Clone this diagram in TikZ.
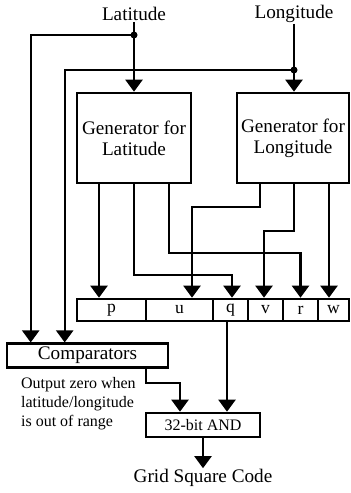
\documentclass[tikz,border=0pt]{standalone}
\usepackage{fontspec}
\setmainfont{Liberation Serif}
\usetikzlibrary{arrows.meta}

\begin{document}
\begin{tikzpicture}[
      x=0.5pt, y={(0pt,-0.5pt)},
      line width=1.1pt,
      >={Triangle[length=6pt, width=8.5pt]},
      big/.style={font=\fontsize{9.6}{10.5}\selectfont},
      small/.style={font=\fontsize{8}{9.5}\selectfont},
      block/.style={big, draw, line width=1.3pt, align=center, inner sep=0, minimum width=57pt, minimum height=45pt},
      cell/.style={font=\fontsize{8.8}{10}\selectfont, draw, line width=1.3pt, inner sep=0, minimum height=11pt},
      unit/.style={draw, line width=1.3pt, inner sep=0, minimum height=11.75pt},
      lbl/.style={big, inner sep=0},
      dot/.style={circle, fill, inner sep=0, minimum size=3.5pt}
    ]
    \useasboundingbox (0,0) rectangle (351,493);

    % inputs
    \node[lbl] (lat) at (134,14) {Latitude};
    \node[lbl] (lon) at (294,14) {Longitude};

    % generators
    \node[block] (genlat) at (134,138) {Generator for\\Latitude};
    \node[block, minimum width=56pt] (genlon) at (293,138) {Generator for\\Longitude};

    % output register
    \node[cell, minimum width=34.5pt] (p) at (111.5,310) {p};
    \node[cell, minimum width=33.5pt] (u) at (179.5,310) {u};
    \node[cell, minimum width=17.5pt] (q) at (230.5,310) {q};
    \node[cell, minimum width=17.5pt] (v) at (265.5,310) {v};
    \node[cell, minimum width=17.5pt] (r) at (300.5,310) {r};
    \node[cell, minimum width=15.5pt] (w) at (333.5,310) {w};

    \node[unit, big, minimum width=80.5pt] (comp) at (87.5,355.5) {Comparators};
    \node[unit, small, minimum width=57pt, minimum height=12pt] (and) at (203,425) {32-bit AND};
    \node[small, align=left, inner sep=0, anchor=west] (note) at (20,404)
      {Output zero when\\latitude/longitude\\is out of range};
    \node[lbl] (grid) at (203,478) {Grid Square Code};

    % input wiring
    \coordinate (latdot) at (134,35);
    \coordinate (londot) at (294,70);
    \draw[->] (lat.south) -- (genlat.north);
    \draw[->] (lon.south) -- ([xshift=0.5pt]genlon.north);
    \draw[->] (latdot) -| ([xshift=12.5pt]comp.north west);
    \draw[->] (londot) -| ([xshift=29.5pt]comp.north west);
    \node[dot] at (latdot) {};
    \node[dot] at (londot) {};

    % generator outputs
    \draw[->] ([xshift=-17.5pt]genlat.south) -- ([xshift=-17.5pt]genlat.south |- p.north);
    \draw[->] (genlat.south) -- (134,275) -| ([xshift=0.75pt]q.north);
    \draw[->] ([xshift=17.5pt]genlat.south) -- (169,253) -| (r.north);
    \draw[->] ([xshift=-16.5pt]genlon.south) -- (260,207) -| ([xshift=6.25pt]u.north);
    \draw[->] ([xshift=0.5pt]genlon.south) -- (294,231) -| ([xshift=-0.75pt]v.north);
    \draw[->] ([xshift=18pt]genlon.south) -- ([xshift=18pt]genlon.south |- w.north);

    % combine
    \draw[->] ([xshift=-1.75pt]q.south) -- ([xshift=-1.75pt]q.south |- and.north);
    \draw[->] ([xshift=29.25pt]comp.south) -- (146,383) -| ([xshift=-11.5pt]and.north);
    \draw[->] (and.south) -- (grid.north);
    \end{tikzpicture}
\end{document}
